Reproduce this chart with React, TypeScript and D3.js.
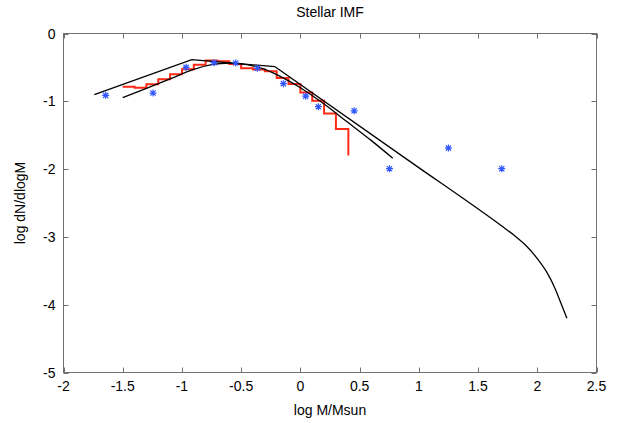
import React, { useEffect, useRef } from 'react';
import * as d3 from 'd3';

// tick values
const xTicks = [-2, -1.5, -1, -0.5, 0, 0.5, 1, 1.5, 2, 2.5];
const yTicks = [0, -1, -2, -3, -4, -5];

// red step histogram: bin edges, bin heights, and where the last edge drops to
const histEdges = [-1.5, -1.4, -1.3, -1.2, -1.1, -1.0, -0.9, -0.8, -0.7, -0.6, -0.5, -0.4, -0.3, -0.2, -0.1, 0.0, 0.1, 0.2, 0.3, 0.405];
const histValues = [-0.785, -0.8, -0.75, -0.676, -0.6, -0.528, -0.46, -0.4, -0.41, -0.45, -0.512, -0.53, -0.555, -0.655, -0.745, -0.87, -0.993, -1.18, -1.41];
const histDropTo = -1.8;

// broken power law (upper black line)
const upperX = [-1.74, -0.917, -0.214, 0.927, 1.7, 1.8, 1.9, 2.0, 2.08, 2.15, 2.2, 2.25];
const upperY = [-0.9, -0.385, -0.49, -1.89, -2.84, -2.97, -3.12, -3.32, -3.52, -3.76, -3.98, -4.2];

// smooth curve (lower black line)
const lowerX = [-1.5, -1.3, -1.1, -0.9, -0.75, -0.6, -0.45, -0.3, -0.15, 0, 0.2, 0.4, 0.6, 0.78];
const lowerY = [-0.945, -0.81, -0.67, -0.53, -0.46, -0.435, -0.46, -0.53, -0.65, -0.8, -1.04, -1.31, -1.58, -1.84];

// blue star points
const starX = [-1.644, -1.244, -0.965, -0.729, -0.546, -0.363, -0.143, 0.045, 0.152, 0.454, 0.752, 1.25, 1.7];
const starY = [-0.912, -0.878, -0.499, -0.43, -0.435, -0.513, -0.74, -0.924, -1.08, -1.14, -1.994, -1.69, -1.994];

const App = () => {
  const svgRef = useRef<SVGSVGElement>(null);

  useEffect(() => {
    const svg = d3.select(svgRef.current);
    svg.selectAll('*').remove();

    const width = 620;
    const height = 423;
    const margin = { top: 33.5, right: 23.5, bottom: 50.5, left: 63.5 };
    const font = '"Liberation Sans", Arial, Helvetica, sans-serif';

    const x = d3.scaleLinear().domain([-2, 2.5]).range([margin.left, width - margin.right]);
    const y = d3.scaleLinear().domain([-5, 0]).range([height - margin.bottom, margin.top]);

    // frame
    svg.append('rect')
      .attr('x', x(-2))
      .attr('y', y(0))
      .attr('width', x(2.5) - x(-2))
      .attr('height', y(-5) - y(0))
      .attr('fill', 'none')
      .attr('stroke', '#707070')
      .attr('stroke-width', 1);

    // inward ticks on all four sides
    const tickLen = 5;
    const ticks = svg.append('g').attr('stroke', '#707070').attr('stroke-width', 1);
    xTicks.forEach(t => {
      const px = Math.round(x(t)) + 0.5;
      ticks.append('line').attr('x1', px).attr('x2', px).attr('y1', y(-5)).attr('y2', y(-5) - tickLen);
      ticks.append('line').attr('x1', px).attr('x2', px).attr('y1', y(0)).attr('y2', y(0) + tickLen);
    });
    yTicks.forEach(t => {
      const py = Math.round(y(t)) + 0.5;
      ticks.append('line').attr('x1', x(-2)).attr('x2', x(-2) + tickLen).attr('y1', py).attr('y2', py);
      ticks.append('line').attr('x1', x(2.5)).attr('x2', x(2.5) - tickLen).attr('y1', py).attr('y2', py);
    });

    // tick labels
    svg.append('g')
      .selectAll('text')
      .data(xTicks)
      .join('text')
      .attr('x', d => x(d))
      .attr('y', y(-5) + 18)
      .attr('text-anchor', 'middle')
      .style('font-family', font)
      .style('font-size', '14px')
      .text(d => String(d));

    svg.append('g')
      .selectAll('text')
      .data(yTicks)
      .join('text')
      .attr('x', x(-2) - 8)
      .attr('y', d => y(d) + 5)
      .attr('text-anchor', 'end')
      .style('font-family', font)
      .style('font-size', '14px')
      .text(d => String(d));

    // titles
    svg.append('text')
      .attr('x', (x(-2) + x(2.5)) / 2)
      .attr('y', 17)
      .attr('text-anchor', 'middle')
      .style('font-family', font)
      .style('font-size', '14px')
      .text('Stellar IMF');

    svg.append('text')
      .attr('x', (x(-2) + x(2.5)) / 2)
      .attr('y', 415)
      .attr('text-anchor', 'middle')
      .style('font-family', font)
      .style('font-size', '14px')
      .text('log M/Msun');

    svg.append('text')
      .attr('transform', `translate(25,${(y(0) + y(-5)) / 2}) rotate(-90)`)
      .attr('text-anchor', 'middle')
      .style('font-family', font)
      .style('font-size', '14px')
      .text('log dN/dlogM');

    // red histogram
    const histPts: [number, number][] = histValues.map((v, i) => [histEdges[i], v]);
    histPts.push([histEdges[histEdges.length - 1], histDropTo]);
    svg.append('path')
      .datum(histPts)
      .attr('fill', 'none')
      .attr('stroke', '#ff2a14')
      .attr('stroke-width', 2)
      .attr('d', d3.line<[number, number]>().x(d => x(d[0])).y(d => y(d[1])).curve(d3.curveStepAfter));

    // black lines: upper one is straight up to the knee, smooth in the tail
    const upperPts: [number, number][] = upperX.map((v, i) => [v, upperY[i]]);
    const lineOf = d3.line<[number, number]>().x(d => x(d[0])).y(d => y(d[1]));
    svg.append('path')
      .datum(upperPts.slice(0, 3))
      .attr('fill', 'none')
      .attr('stroke', '#000')
      .attr('stroke-width', 1.3)
      .attr('d', lineOf);
    svg.append('path')
      .datum(upperPts.slice(2))
      .attr('fill', 'none')
      .attr('stroke', '#000')
      .attr('stroke-width', 1.3)
      .attr('d', lineOf.curve(d3.curveMonotoneX));

    const lowerPts: [number, number][] = lowerX.map((v, i) => [v, lowerY[i]]);
    svg.append('path')
      .datum(lowerPts)
      .attr('fill', 'none')
      .attr('stroke', '#000')
      .attr('stroke-width', 1.3)
      .attr('d', d3.line<[number, number]>().x(d => x(d[0])).y(d => y(d[1])).curve(d3.curveCatmullRom));

    // blue stars (+ and x combined)
    const r = 3.5;
    const starPath = `M${-r},0H${r}M0,${-r}V${r}M${-r * 0.75},${-r * 0.75}L${r * 0.75},${r * 0.75}M${-r * 0.75},${r * 0.75}L${r * 0.75},${-r * 0.75}`;
    svg.append('g')
      .selectAll('path')
      .data(starX.map((v, i) => [v, starY[i]]))
      .join('path')
      .attr('transform', d => `translate(${x(d[0])},${y(d[1])})`)
      .attr('d', starPath)
      .attr('fill', 'none')
      .attr('stroke', '#3358ff')
      .attr('stroke-width', 1.2);
  }, []);

  return (
    <svg
      ref={svgRef}
      width="620"
      height="423"
      style={{ position: 'absolute', left: 0, top: 0, background: '#fff' }}
    ></svg>
  );
};

export default App;
